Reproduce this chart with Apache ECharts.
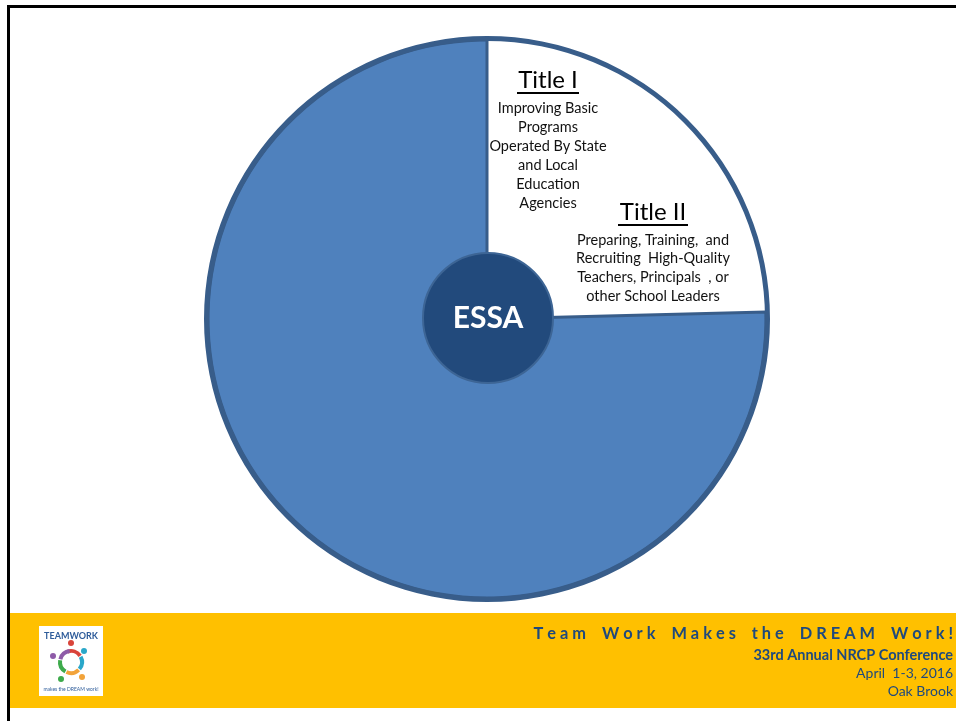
<!DOCTYPE html>
<html>
<head>
<meta charset="utf-8">
<script src="https://cdn.jsdelivr.net/npm/echarts@6/dist/echarts.min.js"></script>
<style>
html,body{margin:0;padding:0;background:#fff;}
#chart{width:956px;height:721px;}
</style>
</head>
<body>
<div id="chart"></div>
<script>
// ---- data ----
const sliceNames = ['Title I', 'Title II', 'Other Titles'];
const sliceValues = [12.3, 12.3, 75.4];
const centerLabel = 'ESSA';
const title1Heading = 'Title I';
const title1Lines = ['Improving Basic', 'Programs', 'Operated By State', 'and Local', 'Education', 'Agencies'];
const title2Heading = 'Title II';
const title2Lines = ['Preparing, Training,  and', 'Recruiting  High-Quality', 'Teachers, Principals  , or', 'other School Leaders'];
const footerSlogan = 'Team Work Makes the DREAM Work!';
const footerLines = ['33rd Annual NRCP Conference', 'April  1-3, 2016', 'Oak Brook'];

const FONT = 'Lato, "Open Sans", sans-serif';
const navy = '#1F497D';
const ringColor = '#385D8A';

function spaced(s) {
  return s.split(' ').map(w => w.split('').join(' ')).join('    ');
}

const chart = echarts.init(document.getElementById('chart'), null, {renderer: 'canvas'});

const graphics = [
  // frame
  {type: 'rect', shape: {x: 7, y: 5, width: 3, height: 716}, style: {fill: '#000'}, z: 1},
  {type: 'rect', shape: {x: 7, y: 5, width: 949, height: 3}, style: {fill: '#000'}, z: 1},
  // yellow band
  {type: 'rect', shape: {x: 10, y: 613, width: 946, height: 95}, style: {fill: '#FFC000'}, z: 1},
  // logo
  {type: 'rect', shape: {x: 39, y: 626, width: 64, height: 70}, style: {fill: '#fff'}, z: 2},
  {type: 'text', x: 71, y: 636, style: {text: 'TEAMWORK', font: 'bold 9px ' + FONT, fill: '#2E5C9A', textAlign: 'center', textVerticalAlign: 'middle'}, z: 3},
  {type: 'circle', shape: {cx: 71, cy: 643, r: 3}, style: {fill: '#D9443A'}, z: 3},
  {type: 'circle', shape: {cx: 84, cy: 651, r: 3}, style: {fill: '#2AA7C9'}, z: 3},
  {type: 'circle', shape: {cx: 82, cy: 677, r: 3}, style: {fill: '#F2A33A'}, z: 3},
  {type: 'circle', shape: {cx: 61, cy: 679, r: 3}, style: {fill: '#3DAA4B'}, z: 3},
  {type: 'circle', shape: {cx: 53, cy: 656, r: 3}, style: {fill: '#8E5BA8'}, z: 3},
  {type: 'arc', shape: {cx: 71, cy: 662, r: 11, startAngle: -1.9, endAngle: -0.6}, style: {stroke: '#D9443A', lineWidth: 4, fill: null}, z: 3},
  {type: 'arc', shape: {cx: 71, cy: 662, r: 11, startAngle: -0.5, endAngle: 0.7}, style: {stroke: '#2AA7C9', lineWidth: 4, fill: null}, z: 3},
  {type: 'arc', shape: {cx: 71, cy: 662, r: 11, startAngle: 0.8, endAngle: 2.0}, style: {stroke: '#F2A33A', lineWidth: 4, fill: null}, z: 3},
  {type: 'arc', shape: {cx: 71, cy: 662, r: 11, startAngle: 2.1, endAngle: 3.3}, style: {stroke: '#3DAA4B', lineWidth: 4, fill: null}, z: 3},
  {type: 'arc', shape: {cx: 71, cy: 662, r: 11, startAngle: 3.4, endAngle: 4.6}, style: {stroke: '#8E5BA8', lineWidth: 4, fill: null}, z: 3},
  {type: 'text', x: 71, y: 689, style: {text: 'makes the DREAM work!', font: '5px ' + FONT, fill: '#2E5C9A', textAlign: 'center', textVerticalAlign: 'middle'}, z: 3},
  // footer
  {type: 'text', x: 953, y: 634, style: {text: spaced(footerSlogan), font: 'bold 16.4px ' + FONT, fill: navy, textAlign: 'right', textVerticalAlign: 'middle'}, z: 3},
  {type: 'text', x: 953, y: 655, style: {text: footerLines[0], font: 'bold 14.5px ' + FONT, fill: navy, textAlign: 'right', textVerticalAlign: 'middle'}, z: 3},
  {type: 'text', x: 953, y: 673, style: {text: footerLines[1], font: '14px ' + FONT, fill: navy, textAlign: 'right', textVerticalAlign: 'middle'}, z: 3},
  {type: 'text', x: 953, y: 691, style: {text: footerLines[2], font: '14px ' + FONT, fill: navy, textAlign: 'right', textVerticalAlign: 'middle'}, z: 3},
  // Title I
  {type: 'text', x: 548, y: 80, style: {text: title1Heading, font: '24px ' + FONT, fill: '#000', textAlign: 'center', textVerticalAlign: 'middle'}, z: 10},
  {type: 'rect', shape: {x: 517, y: 92, width: 62, height: 2}, style: {fill: '#000'}, z: 10},
  // Title II
  {type: 'text', x: 653, y: 212, style: {text: title2Heading, font: '24px ' + FONT, fill: '#000', textAlign: 'center', textVerticalAlign: 'middle'}, z: 10},
  {type: 'rect', shape: {x: 618, y: 224, width: 70, height: 2}, style: {fill: '#000'}, z: 10}
];
title1Lines.forEach((t, i) => {
  graphics.push({type: 'text', x: 548, y: 108 + i * 19.1, style: {text: t, font: '14.5px ' + FONT, fill: '#111', textAlign: 'center', textVerticalAlign: 'middle'}, z: 10});
});
title2Lines.forEach((t, i) => {
  graphics.push({type: 'text', x: 653, y: 240 + i * 18.7, style: {text: t, font: '14.5px ' + FONT, fill: '#111', textAlign: 'center', textVerticalAlign: 'middle'}, z: 10});
});

const sliceStyles = [
  {color: '#fff', borderWidth: 0},
  {color: '#fff', borderWidth: 0},
  {color: '#4F81BD', borderColor: ringColor, borderWidth: 3}
];

chart.setOption({
  backgroundColor: '#fff',
  animation: false,
  graphic: graphics,
  series: [
    {
      type: 'pie',
      center: [487, 319],
      radius: [0, 279],
      startAngle: 90,
      clockwise: true,
      silent: true,
      label: {show: false},
      labelLine: {show: false},
      z: 2,
      data: sliceNames.map((n, i) => ({name: n, value: sliceValues[i], itemStyle: sliceStyles[i]}))
    },
    {
      type: 'pie',
      center: [487, 319],
      radius: [278, 283],
      silent: true,
      label: {show: false},
      labelLine: {show: false},
      z: 3,
      itemStyle: {color: ringColor},
      data: [{name: 'ring', value: 1}]
    },
    {
      type: 'pie',
      center: [488, 318],
      radius: [0, 65],
      silent: true,
      z: 5,
      itemStyle: {color: '#224A7C', borderColor: '#3D6595', borderWidth: 2},
      label: {show: true, position: 'center', formatter: '{b}', color: '#fff', fontSize: 30, fontWeight: 'bold', fontFamily: FONT},
      labelLine: {show: false},
      data: [{name: centerLabel, value: 1}]
    }
  ]
});
</script>
</body>
</html>
